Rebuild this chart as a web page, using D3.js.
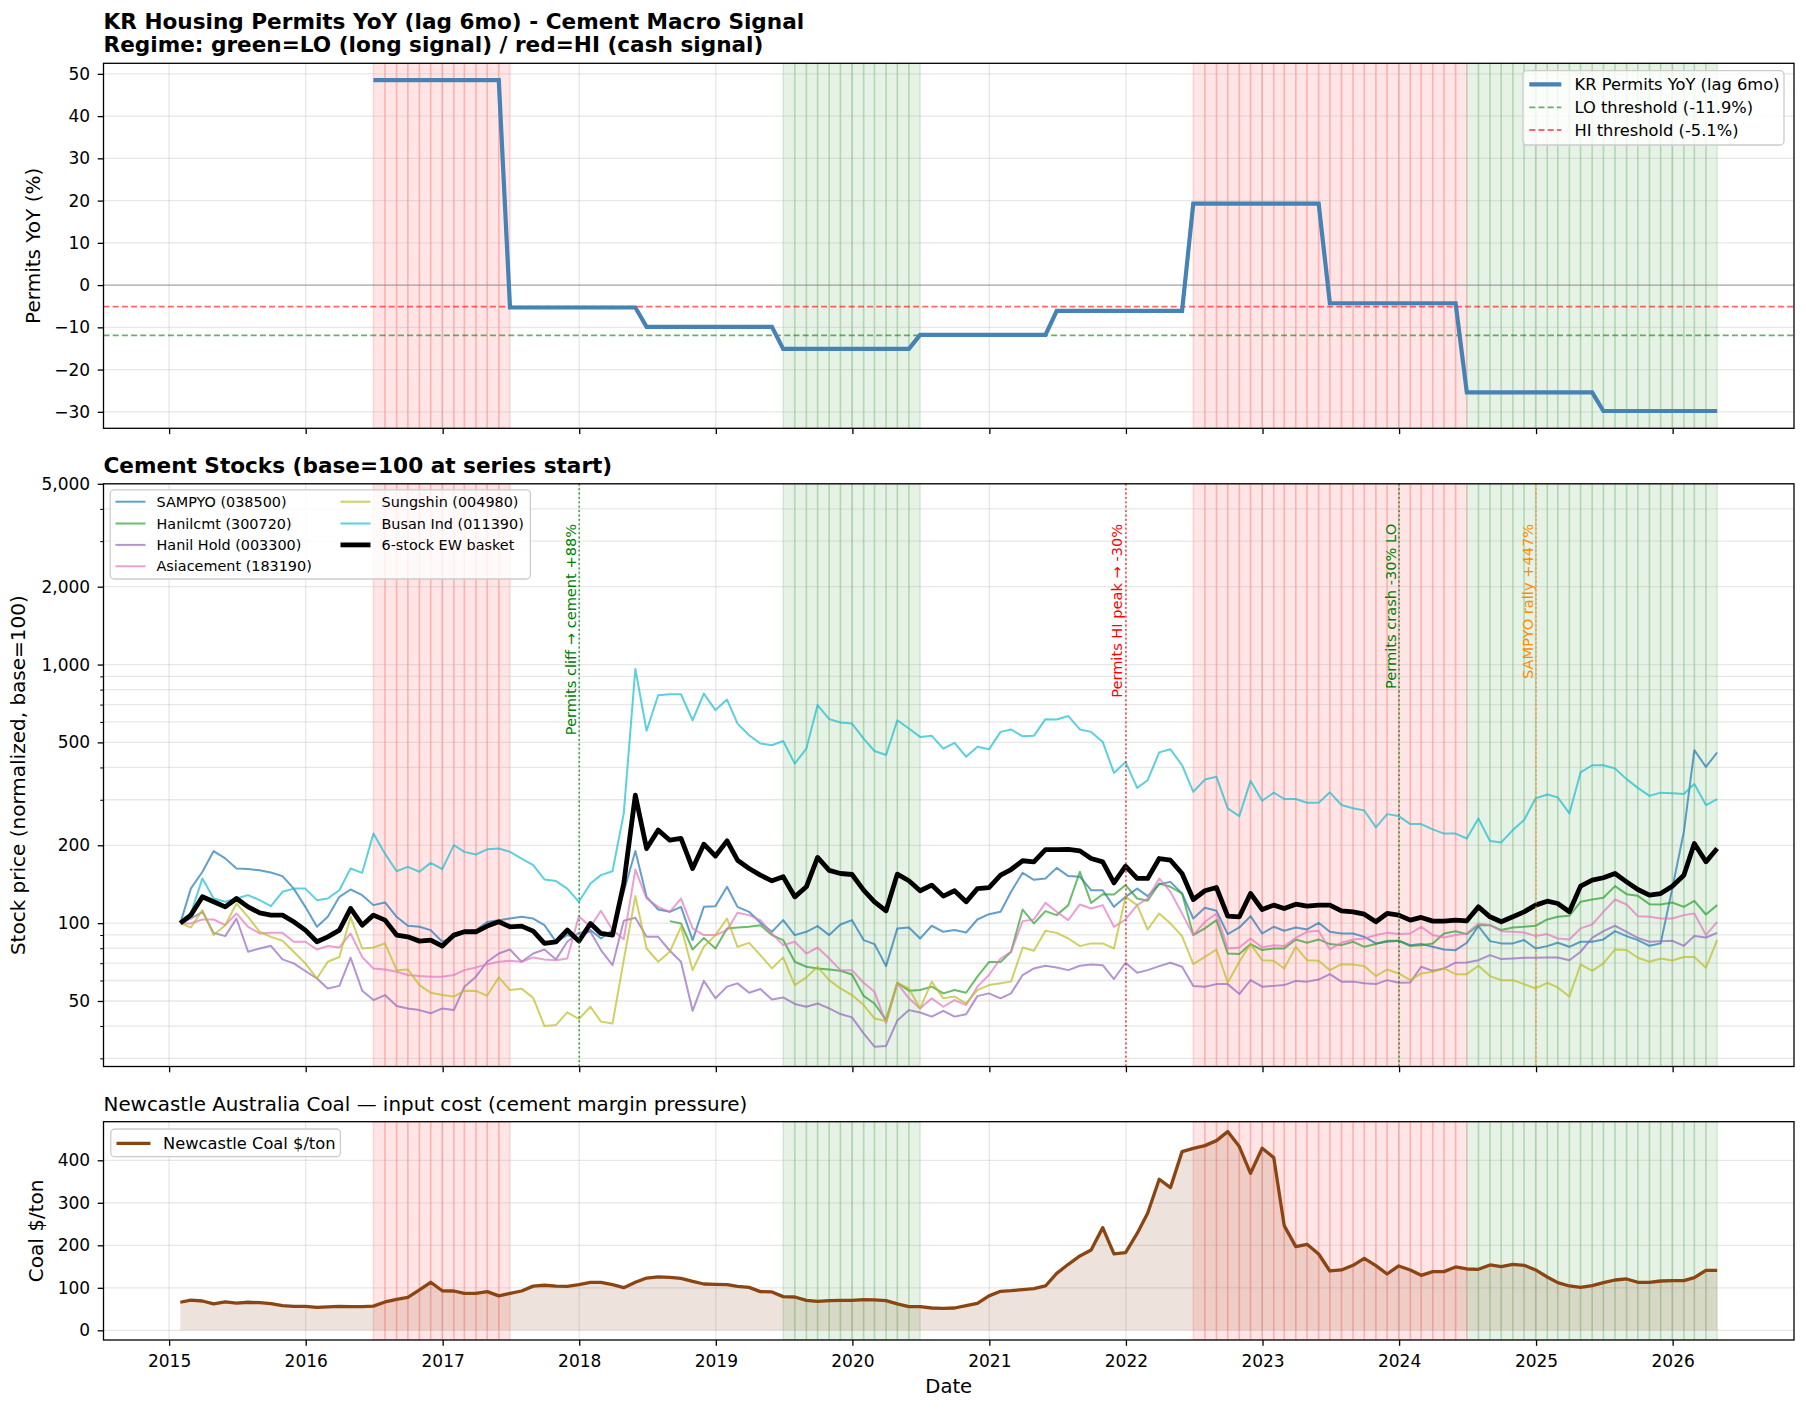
<!DOCTYPE html>
<html><head><meta charset="utf-8">
<script src="https://cdn.jsdelivr.net/npm/d3@7"></script>
<style>body{margin:0;background:#fff} svg text{font-family:"DejaVu Sans",sans-serif}</style>
</head><body><svg id="c" width="1806" height="1410" xmlns="http://www.w3.org/2000/svg"></svg>
<script>
// ---------------- DATA ----------------
// monthly (month-end) observations, Jan 2015 .. Apr 2026
const firstMonth = [2015, 0];
const monthCount = 136;
const yearTicks = [2015,2016,2017,2018,2019,2020,2021,2022,2023,2024,2025,2026];

// KR housing permits YoY % (lagged 6 months) – starts Jun 2016
const permits = [null,null,null,null,null,null,null,null,null,null,null,null,null,null,null,null,null,
 48.5,48.5,48.5,48.5,48.5,48.5,48.5,48.5,48.5,48.5,48.5,48.5,
 -5.3,-5.3,-5.3,-5.3,-5.3,-5.3,-5.3,-5.3,-5.3,-5.3,-5.3,-5.3,
 -9.9,-9.9,-9.9,-9.9,-9.9,-9.9,-9.9,-9.9,-9.9,-9.9,-9.9,-9.9,
 -15.1,-15.1,-15.1,-15.1,-15.1,-15.1,-15.1,-15.1,-15.1,-15.1,-15.1,-15.1,
 -11.8,-11.8,-11.8,-11.8,-11.8,-11.8,-11.8,-11.8,-11.8,-11.8,-11.8,-11.8,
 -6.1,-6.1,-6.1,-6.1,-6.1,-6.1,-6.1,-6.1,-6.1,-6.1,-6.1,-6.1,
 19.3,19.3,19.3,19.3,19.3,19.3,19.3,19.3,19.3,19.3,19.3,19.3,
 -4.3,-4.3,-4.3,-4.3,-4.3,-4.3,-4.3,-4.3,-4.3,-4.3,-4.3,-4.3,
 -25.4,-25.4,-25.4,-25.4,-25.4,-25.4,-25.4,-25.4,-25.4,-25.4,-25.4,-25.4,
 -29.8,-29.8,-29.8,-29.8,-29.8,-29.8,-29.8,-29.8,-29.8,-29.8,-29.8];
const loThreshold = -11.9;
const hiThreshold = -5.1;

// normalized stock prices (base = 100)
const sampyo = [100,136,158,190,178,162.6,162,160,157,152,136,115.6,96.8,105.8,126.4,134.9,128.3,117.4,120.2,105.8,97.7,96.8,94,84.7,88.5,92.6,94,101,
 102.7,104.2,105.8,104.2,98.2,84.7,89.9,87.2,94,87.2,94,132.2,190,126.4,112.9,110.6,115.6,86,115.6,116.3,138.2,115.6,110.6,100.3,92.6,102.7,89.9,92.6,
 97.4,89.9,98.8,102.7,86,83,68.2,95.4,96.2,87.2,97.7,92.6,94,92,103.3,108.3,110.6,132.2,156.5,147.1,148.9,163.6,152,151.1,134.1,134.1,115.6,126.4,
 136,127.2,141.5,144.4,130.2,104.2,114.6,111.6,90.7,96.2,106.4,91.2,96.8,93.4,96.2,94.5,100.3,92.6,91.2,91.2,88.5,83.5,84.7,85.5,82.2,83,81,79.1,
 78.6,84,97.4,85.2,83.5,83.5,86,79.8,81.5,84,81,84.7,84.7,86.5,93.1,89.1,86,81.7,83.5,136,225.5,466.5,402,457];
const hanilcmt = [null,null,null,null,null,null,null,null,null,null,null,null,null,null,null,null,null,null,null,null,null,null,null,null,null,null,null,null,
 null,null,null,null,null,null,null,null,null,null,null,null,null,null,null,101.8,99.7,79.1,87.7,79.8,95.4,96.2,96.8,98.2,89.9,86,70.9,67.8,
 66.8,66.2,65.4,63.3,52.3,48.9,42.2,58.8,54.8,55.1,56.8,53.5,55.1,53.8,62.1,70.7,70.7,77.5,112.9,99.7,111.3,107.4,117.4,158,119.8,129.4,129,140.3,
 124.5,122,142.4,138.2,130.2,89.9,95.4,102.7,76.3,75.9,83,78.7,79.8,79.8,86.5,84,86.5,83,82.2,84.7,81,83,85.5,85.5,81.5,82.2,83.5,91.2,
 93.1,90.7,98.2,98.2,94,96.2,96.8,97.7,103.3,105.8,106.7,120.9,123.4,125.3,139,129.4,127.5,118.4,118.1,120.2,115.6,122,108,117.4];
const hanilHold = [100,104.2,110.6,91.7,89.1,104.2,77.5,79.8,81.7,72.4,69.9,65.3,61.1,55.9,57.2,73.5,54.8,50.4,52.7,47.8,46.8,46.1,44.8,46.8,46.1,56.7,62.1,70.9,
 76.3,79.1,70.9,76.3,79.1,72.4,84.7,91.7,92.6,78.7,68.8,102.1,104.9,88.5,88.5,78.2,70.9,45.8,59.8,51.2,56.8,58.5,53.8,55.6,50.7,51.6,48.7,47.5,
 48.9,46.8,44.5,43.2,37.5,33.3,33.5,42,46.1,45.1,43.5,45.8,43.5,44.4,52.2,53.5,51.2,53.5,63,66.8,68.4,67.4,65.8,68.4,69.2,68.8,60.8,70.3,
 64.3,65.8,68.2,70.3,67.8,57.1,56.8,58.1,58.1,53.2,60.2,56.8,57.2,57.6,59.8,59.4,60.5,63.5,59.4,59.4,58.5,58.1,60.2,58.8,59,67.8,65.4,66.8,
 70.3,70.5,71.9,75.2,72.6,73,73.5,73.5,73.7,73.7,71.9,77.5,87.7,93.1,97.7,92.6,87.7,84.7,85.2,85.5,81.7,89.1,88,91.7];
const asiacement = [100,99.7,103.3,103.3,98.2,109,96.8,91.2,91.7,91.7,84.7,84.7,79.1,81.5,80.5,91.2,74,66.8,66.2,64.9,63,62.4,62.1,62.1,63,65.8,67.4,69.4,
 70.9,71.5,70.9,73.7,72.4,71.9,73,106.4,96.8,111.6,94,86.7,161.2,124.5,115.6,110.6,124.5,95.4,89.9,89.9,94,109.6,107.4,102.7,91.2,82.2,84.7,76.3,
 80.5,73,65.8,65.8,58.8,54.3,41,58.5,51.2,46.8,51.2,47.5,50.4,48.2,56.8,63,73,77.5,101.8,103.3,119.8,110.6,102.7,118.1,113.9,117.4,96.8,103.3,
 117.4,124.5,148.9,132.2,109,89.9,101.2,109,79.8,80.5,87.2,80.5,82.2,81.5,87.7,92.6,93.4,79.1,84,86.5,87.2,89.9,91.7,90.7,91.2,96.8,89.9,88,
 89.9,91.2,99.7,98.2,93.1,92.6,92,89.1,90.7,87.2,86.5,95.4,98.8,110.6,123.4,118.1,106.4,105.8,104.2,104.2,107.4,109,89.9,101.2];
const sungshin = [100,96.2,112.3,89.9,98.2,119.1,105.8,92.6,88.5,85.5,77.5,69.9,61.1,70.9,74,105.8,79.8,80.5,83.5,65.8,66.2,57.6,53.8,52.7,52,54.8,54.7,52.4,
 61.7,55.1,55.8,51.4,40,40.4,45.2,42.6,47.5,41.6,40.9,71.9,127.2,79.8,70.9,77.5,96.8,65.8,81,89.9,104.2,81,83.9,75.2,66.8,73.7,57.6,61.7,
 67.8,60.2,55.9,52.7,48.2,42.8,41.8,58.8,55.9,46.8,59.4,51.2,52,48.9,55.1,57.6,58.5,59.4,80.5,78.2,93.4,91.7,87.2,81.5,83.5,83.5,79.8,126.4,
 117.4,94.5,109,99.7,89.1,69.4,74,79.1,58.8,70.9,83,71.9,71.5,66.8,81,71.9,71.5,65.8,69.4,69.2,68.2,62.4,66.2,63.9,60.2,63.9,64.9,66.8,
 63.5,63.5,68.4,62.4,60.2,60.2,58.1,55.9,58.8,56.4,52,69.2,65.4,69.9,79.1,78.7,73.5,70.9,73,71.7,74,74,67.2,86];
const busanInd = [100,109,148.9,124.5,120.9,124.5,128.3,122.7,116.3,132.2,136,136,122.7,124.5,134.1,162.6,156.5,222,185.7,158.8,165,158,171,161.7,200.3,188.6,184.3,193,
 194.3,188.6,177.8,167.6,147.5,145.4,136,120.9,142.4,153.3,158.8,265.7,962,554.4,760.6,767.6,767.6,609,772,666.5,732,591,533,495,487.5,506,414,473,
 697,615,597,591,517,463,447,609,566,525,530,473,498,440,481,470,549,561,528,530,615,613,632,561,549,502,381,420,
 333.4,357,457.6,470,408,322,359,368,278,259.4,355,297.5,319.6,302,302,292.3,292.3,320.5,286.3,278,272.5,234.6,264,259.4,241.5,241.5,230.5,222,
 222,212.5,254,207.6,205.2,229,250.3,303.8,314.5,306.5,265.7,382.6,408,408,396,360.5,333.4,310.5,319.6,317.7,315.8,345,286.3,302];
const basket = [100,107.4,126.5,121,115.6,124.5,115.6,109.6,107.4,107.4,101.2,94,84.7,88.5,94,114,98.2,107.4,102.7,89.9,88.5,85.2,86,81.5,89.9,92.6,92.6,97.4,
 101.2,96.8,97.4,93.1,83.5,84.7,94,85.2,99.7,91.2,89.9,142.4,312.6,194.3,228.9,209.3,212.5,162.6,202,181.9,208,175.1,162.6,153.3,145.8,151.1,126.4,138.2,
 179.6,160,155.6,154.2,134.1,120.9,111.6,154.7,145.8,133.4,140.3,127.2,133.4,120.9,136,137.3,153.3,161.2,174.3,172.6,192.6,192.6,193,190.3,177.8,172.6,143.1,166,
 148.9,148.9,177.8,175.1,155.6,123.4,133.4,137.3,106.4,105.8,130.2,112.9,117.4,113.9,118.4,116.3,117.4,117.4,111.6,110.6,108.3,101.2,109,107.4,102.7,105.2,101.8,101.8,
 102.7,102.1,115.6,105.8,101.2,105.8,110.6,117.4,121.6,119.1,110.6,139,146.6,149.8,155.6,144.4,134.9,128.3,130.2,139,153.3,203.3,172.6,194.3];

// Newcastle coal $/ton
const coal = [66,71,69,62,67,64,66,65,63,58,56.5,56.5,54,55,56.5,55.7,55.7,57,66.7,73,77.6,95,113,93,92.5,87,87,91,
 81,87,92.5,104,106,104,103.5,107.5,113,113,107.5,100.4,113,123,125.5,124.7,122.4,115.3,109,108.2,107.5,103.5,101,91,90.2,79.2,78.4,70.6,
 68.2,69.8,70.6,70.6,72.2,71.4,69.8,62,55.7,55.7,52.5,51.8,52.5,58,63.5,81,91.8,93.3,95.7,98,104.3,134,155.3,175,189,241.6,179.6,182.7,
 228,275.3,355.3,335.7,420.4,428.2,434.5,446.3,467.5,432.2,369.4,428.2,406.3,246.3,196.9,202.4,179.6,139.6,142,153,169.4,152.2,132.5,151.4,142,129.4,138,138,
 149,144.3,143.5,153.7,149.8,155.3,153,142,125.5,112.2,104.3,101.2,105,112.2,118.4,120.8,113,113,116,116.9,116.9,124,141.2,141.2];

const stockSeries = [
  {name:"SAMPYO (038500)", values:sampyo, color:"#1f77b4"},
  {name:"Hanilcmt (300720)", values:hanilcmt, color:"#2ca02c"},
  {name:"Hanil Hold (003300)", values:hanilHold, color:"#9467bd"},
  {name:"Asiacement (183190)", values:asiacement, color:"#e377c2"},
  {name:"Sungshin (004980)", values:sungshin, color:"#bcbd22"},
  {name:"Busan Ind (011390)", values:busanInd, color:"#17becf"}
];
const basketName = "6-stock EW basket";

const events = [
  {date:[2018,0,1], label:"Permits cliff \u2192 cement +88%", color:"green"},
  {date:[2022,0,1], label:"Permits HI peak \u2192 -30%", color:"red"},
  {date:[2024,0,1], label:"Permits crash -30% LO", color:"green"},
  {date:[2025,0,1], label:"SAMPYO rally +447%", color:"darkorange"}
];
const stockMajorTicks = [50,100,200,500,1000,2000,5000];
const stockMinorTicks = [30,40,60,70,80,90,300,400,600,700,800,900,3000,4000];
const permitTicks = [-30,-20,-10,0,10,20,30,40,50];
const coalTicks = [0,100,200,300,400];

// ---------------- DRAW ----------------
const svg = d3.select("#c");
const FONT = "DejaVu Sans";
const dates = d3.range(monthCount).map(i => new Date(Date.UTC(firstMonth[0], firstMonth[1] + i + 1, 0)));
const t0 = +dates[0], t1 = +dates[dates.length-1], pad = 0.05*(t1-t0);
const L = 103.5, R = 1794;
const x = d3.scaleUtc().domain([new Date(t0-pad), new Date(t1+pad)]).range([L, R]);
const yearDates = yearTicks.map(y => new Date(Date.UTC(y,0,1)));

const P1 = {top:63.3, bot:428.3}, P2 = {top:483.8, bot:1066.5}, P3 = {top:1121.7, bot:1340};
const y1 = d3.scaleLinear().domain([-33.9, 52.5]).range([P1.bot, P1.top]);
const y2 = d3.scaleLog().domain([27.9, 5000]).range([P2.bot, P2.top]);
const y3 = d3.scaleLinear().domain([-22.8, 490.8]).range([P3.bot, P3.top]);

const regime = permits.map(v => v == null ? null : (v <= loThreshold ? "LO" : (v >= hiThreshold ? "HI" : null)));

function clip(id, P){
  svg.append("clipPath").attr("id", id).append("rect").attr("x", L).attr("y", P.top).attr("width", R-L).attr("height", P.bot-P.top);
}
function shading(P, clipId){
  const g = svg.append("g").attr("clip-path", `url(#${clipId})`);
  for (let i = 0; i < monthCount-1; i++) {
    if (!regime[i]) continue;
    const c = regime[i] === "LO" ? "green" : "red";
    g.append("rect").attr("x", x(dates[i])).attr("y", P.top).attr("width", x(dates[i+1]) - x(dates[i])).attr("height", P.bot-P.top)
      .attr("fill", c).attr("fill-opacity", 0.1).attr("stroke", c).attr("stroke-opacity", 0.12).attr("stroke-width", 1.6);
  }
}
function grid(P, yScale, yVals){
  const g = svg.append("g");
  g.selectAll(".vg").data(yearDates).join("line").attr("x1", d=>x(d)).attr("x2", d=>x(d)).attr("y1", P.top).attr("y2", P.bot)
    .attr("stroke", "#b0b0b0").attr("stroke-opacity", 0.3).attr("stroke-width", 1.3);
  g.selectAll(".hg").data(yVals).join("line").attr("x1", L).attr("x2", R).attr("y1", d=>yScale(d)).attr("y2", d=>yScale(d))
    .attr("stroke", "#b0b0b0").attr("stroke-opacity", 0.3).attr("stroke-width", 1.3);
}
function frame(P){
  svg.append("rect").attr("x", L).attr("y", P.top).attr("width", R-L).attr("height", P.bot-P.top)
    .attr("fill", "none").attr("stroke", "#000").attr("stroke-width", 1.3);
}
function styleAxis(g){
  g.attr("font-family", FONT).attr("font-size", 17);
  g.select(".domain").remove();
  g.selectAll("line").attr("stroke", "#000").attr("stroke-width", 1.3);
  g.selectAll("text").attr("fill", "#000");
}
function xAxis(P, labels){
  const g = svg.append("g").attr("transform", `translate(0,${P.bot})`)
    .call(d3.axisBottom(x).tickValues(yearDates).tickSize(5.8).tickPadding(9.4).tickFormat(labels ? d3.utcFormat("%Y") : ""));
  styleAxis(g);
}
function yAxis(yScale, vals, fmt, size){
  const g = svg.append("g").attr("transform", `translate(${L},0)`)
    .call(d3.axisLeft(yScale).tickValues(vals).tickSize(size).tickPadding(7.6).tickFormat(fmt));
  styleAxis(g);
  return g;
}
function text(xp, yp, s, opts={}){
  const t = svg.append("text").attr("x", xp).attr("y", yp).text(s).attr("font-family", FONT)
    .attr("font-size", opts.size || 17).attr("fill", opts.color || "#000");
  if (opts.bold) t.attr("font-weight", "bold");
  if (opts.anchor) t.attr("text-anchor", opts.anchor);
  if (opts.rotate) t.attr("transform", `rotate(${opts.rotate},${xp},${yp})`);
  return t;
}
function legendBox(x0, y0, x1, y1){
  svg.append("rect").attr("x", x0).attr("y", y0).attr("width", x1-x0).attr("height", y1-y0).attr("rx", 4)
    .attr("fill", "#fff").attr("fill-opacity", 0.8).attr("stroke", "#cccccc").attr("stroke-width", 1.3);
}
function handle(x0, x1, yy, color, width, opacity, dash){
  const l = svg.append("line").attr("x1", x0).attr("x2", x1).attr("y1", yy).attr("y2", yy)
    .attr("stroke", color).attr("stroke-width", width).attr("stroke-opacity", opacity);
  if (dash) l.attr("stroke-dasharray", dash);
}
const lineGen = ys => d3.line().defined(d => d != null).x((d,i) => x(dates[i])).y(d => ys(d));

// ===== Panel 1 =====
clip("c1", P1); shading(P1, "c1"); grid(P1, y1, permitTicks);
svg.append("line").attr("x1", L).attr("x2", R).attr("y1", y1(0)).attr("y2", y1(0)).attr("stroke", "#808080").attr("stroke-opacity", 0.6).attr("stroke-width", 1.3);
svg.append("line").attr("x1", L).attr("x2", R).attr("y1", y1(loThreshold)).attr("y2", y1(loThreshold))
  .attr("stroke", "green").attr("stroke-opacity", 0.6).attr("stroke-width", 1.8).attr("stroke-dasharray", "6,3.2");
svg.append("line").attr("x1", L).attr("x2", R).attr("y1", y1(hiThreshold)).attr("y2", y1(hiThreshold))
  .attr("stroke", "red").attr("stroke-opacity", 0.6).attr("stroke-width", 1.8).attr("stroke-dasharray", "6,3.2");
svg.append("path").datum(permits).attr("d", lineGen(y1)).attr("fill", "none").attr("stroke", "steelblue").attr("stroke-width", 4.2).attr("clip-path", "url(#c1)");
frame(P1); xAxis(P1, false); yAxis(y1, permitTicks, d3.format("d"), 5.8);
text(L, 29, "KR Housing Permits YoY (lag 6mo) - Cement Macro Signal", {bold:true, size:21.6});
text(L, 52, "Regime: green=LO (long signal) / red=HI (cash signal)", {bold:true, size:21.6});
text(40.5, (P1.top+P1.bot)/2, "Permits YoY (%)", {size:20, anchor:"middle", rotate:-90});
legendBox(1522.9, 70.7, 1784, 145);
handle(1529.3, 1561.3, 84.3, "steelblue", 4.2, 1);
handle(1529.3, 1561.3, 107.3, "green", 1.8, 0.6, "6,3.2");
handle(1529.3, 1561.3, 130, "red", 1.8, 0.6, "6,3.2");
text(1574.5, 90.1, "KR Permits YoY (lag 6mo)", {size:16.3});
text(1574.5, 113.1, `LO threshold (${loThreshold}%)`, {size:16.3});
text(1574.5, 135.8, `HI threshold (${hiThreshold}%)`, {size:16.3});

// ===== Panel 2 =====
clip("c2", P2); shading(P2, "c2"); grid(P2, y2, stockMajorTicks.concat(stockMinorTicks));
const g2 = svg.append("g").attr("clip-path", "url(#c2)");
stockSeries.forEach(s => {
  g2.append("path").datum(s.values).attr("d", lineGen(y2)).attr("fill", "none").attr("stroke", s.color)
    .attr("stroke-width", 2).attr("stroke-opacity", 0.7).attr("stroke-linejoin", "round");
});
g2.append("path").datum(basket).attr("d", lineGen(y2)).attr("fill", "none").attr("stroke", "#000").attr("stroke-width", 4.8).attr("stroke-linejoin", "round");
events.forEach(e => {
  const xe = x(new Date(Date.UTC(...e.date)));
  svg.append("line").attr("x1", xe).attr("x2", xe).attr("y1", P2.top).attr("y2", P2.bot).attr("stroke", e.color)
    .attr("stroke-width", 1.6).attr("stroke-opacity", 0.75).attr("stroke-dasharray", "1.8,2.6");
  text(xe - 3.5, y2(3500), e.label, {size:14.6, color:e.color, anchor:"end", rotate:-90});
});
frame(P2); xAxis(P2, false);
yAxis(y2, stockMajorTicks, d3.format(","), 5.8);
yAxis(y2, stockMinorTicks, "", 3.3).selectAll("line").attr("stroke-width", 1);
text(L, 472.5, "Cement Stocks (base=100 at series start)", {bold:true, size:21.6});
text(25.5, (P2.top+P2.bot)/2, "Stock price (normalized, base=100)", {size:20, anchor:"middle", rotate:-90});
legendBox(110.2, 489.8, 530.4, 579);
const rowsY = [501.7, 523.5, 544.9, 566.3];
const legItems = stockSeries.map(s => ({name:s.name, color:s.color, w:2, o:0.7})).concat([{name:basketName, color:"#000", w:4.8, o:1}]);
legItems.forEach((it, k) => {
  const col = k < 4 ? 0 : 1, row = k < 4 ? k : k-4;
  const hx = col === 0 ? 115.5 : 340.5;
  handle(hx, hx+30, rowsY[row], it.color, it.w, it.o);
  text(hx + 41, rowsY[row] + 5.1, it.name, {size:14.4});
});

// ===== Panel 3 =====
clip("c3", P3); shading(P3, "c3"); grid(P3, y3, coalTicks);
const g3 = svg.append("g").attr("clip-path", "url(#c3)");
g3.append("path").datum(coal).attr("d", d3.area().x((d,i)=>x(dates[i])).y0(y3(0)).y1(d=>y3(d)))
  .attr("fill", "saddlebrown").attr("fill-opacity", 0.15);
g3.append("path").datum(coal).attr("d", lineGen(y3)).attr("fill", "none").attr("stroke", "saddlebrown").attr("stroke-width", 3.3).attr("stroke-linejoin", "round");
frame(P3); xAxis(P3, true); yAxis(y3, coalTicks, d3.format("d"), 5.8);
text(L, 1111, "Newcastle Australia Coal \u2014 input cost (cement margin pressure)", {size:19.9});
text(43, (P3.top+P3.bot)/2, "Coal $/ton", {size:20, anchor:"middle", rotate:-90});
text((L+R)/2, 1393, "Date", {size:19.6, anchor:"middle"});
legendBox(110.8, 1129, 340.4, 1156.7);
handle(116.5, 150.5, 1143.3, "saddlebrown", 3.3, 1);
text(163, 1149, "Newcastle Coal $/ton", {size:16.3});
</script></body></html>
